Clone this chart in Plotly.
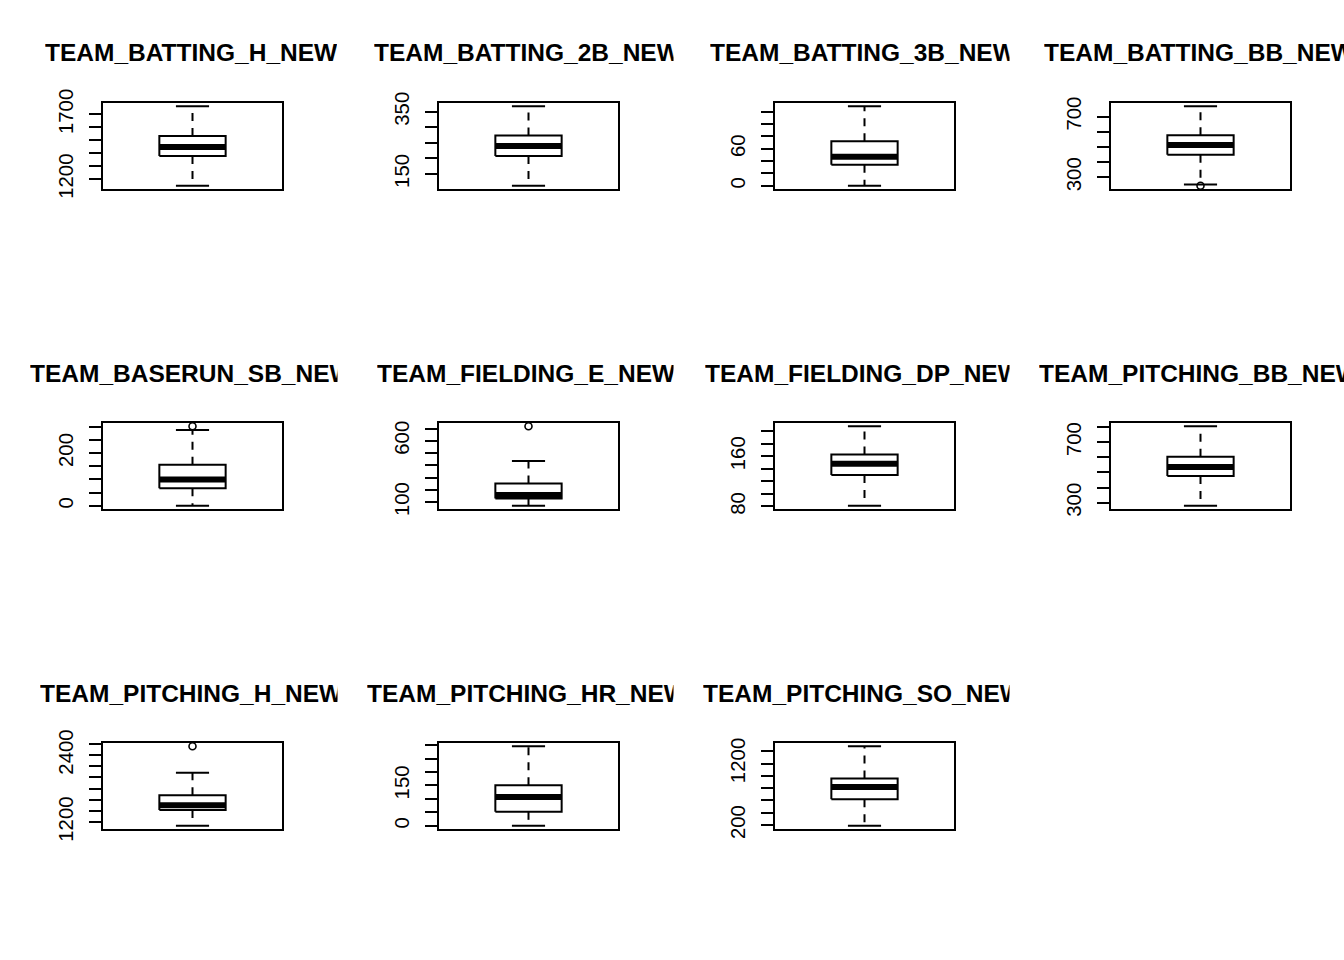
import plotly.graph_objects as go

# ---------------- data ----------------
titles = ["TEAM_BATTING_H_NEW", "TEAM_BATTING_2B_NEW", "TEAM_BATTING_3B_NEW", "TEAM_BATTING_BB_NEW",
          "TEAM_BASERUN_SB_NEW", "TEAM_FIELDING_E_NEW", "TEAM_FIELDING_DP_NEW", "TEAM_PITCHING_BB_NEW",
          "TEAM_PITCHING_H_NEW", "TEAM_PITCHING_HR_NEW", "TEAM_PITCHING_SO_NEW"]
lower_whisker = [1149, 112, 0, 252, 0, 70, 81, 280, 1134, 0, 189]
q1_values = [1379, 208, 34, 448, 67, 129, 130, 477, 1419, 52, 619]
median_values = [1449, 240, 47, 513, 100, 158, 148, 536, 1503, 107, 818]
q3_values = [1533, 274, 72, 578, 156, 252, 163, 604, 1681, 151, 958]
upper_whisker = [1764, 368, 129, 769, 288, 435, 208, 805, 2085, 296, 1481]
outlier_values = [[], [], [], [244], [302], [719], [], [], [2558], [], []]
tick_values = [
    [1200, 1300, 1400, 1500, 1600, 1700],
    [150, 200, 250, 300, 350],
    [0, 20, 40, 60, 80, 100, 120],
    [300, 400, 500, 600, 700],
    [0, 50, 100, 150, 200, 250, 300],
    [100, 200, 300, 400, 500, 600, 700],
    [80, 100, 120, 140, 160, 180, 200],
    [300, 400, 500, 600, 700, 800],
    [1200, 1400, 1600, 1800, 2000, 2200, 2400, 2600],
    [0, 50, 100, 150, 200, 250, 300],
    [200, 400, 600, 800, 1000, 1200, 1400],
]
labelled_ticks = [[1200, 1700], [150, 350], [0, 60], [300, 700], [0, 200], [100, 600],
                  [80, 160], [300, 700], [1200, 2400], [0, 150], [200, 1200]]

# ---------------- layout constants ----------------
W, H = 1344, 960
PANEL_W, PANEL_H = 179, 86
REGION_W, REGION_H = 336, 320
LEFT, TOP = 103, 103
title_left_px = [44, 372.5, 708.5, 1042.5, 28.5, 375.5, 703.5, 1037.5, 38.5, 365.5, 701.5]
FONT = "Liberation Sans, Arial, sans-serif"

fig = go.Figure()
layout = dict(width=W, height=H, margin=dict(l=0, r=0, t=0, b=0, pad=0, autoexpand=False),
              paper_bgcolor="white", plot_bgcolor="white", showlegend=False,
              annotations=[], template="none")

for i, name in enumerate(titles):
    r, c = divmod(i, 4)
    x0 = LEFT + REGION_W * c
    y0 = TOP + REGION_H * r
    sfx = "" if i == 0 else str(i + 1)
    xa, ya = "x" + sfx, "y" + sfx

    lo, q1, med, q3, hi = lower_whisker[i], q1_values[i], median_values[i], q3_values[i], upper_whisker[i]
    outs = outlier_values[i]
    allv = [lo, hi] + outs
    dmin, dmax = min(allv), max(allv)
    ext = 0.04 * (dmax - dmin)

    line = dict(color="black", width=2)
    dashed = dict(color="black", width=2, dash="8px,7px")
    # whiskers (dashed)
    fig.add_trace(go.Scatter(x=[1, 1], y=[q3, hi], mode="lines", xaxis=xa, yaxis=ya,
                             line=dashed, hoverinfo="skip"))
    fig.add_trace(go.Scatter(x=[1, 1], y=[q1, lo], mode="lines", xaxis=xa, yaxis=ya,
                             line=dashed, hoverinfo="skip"))
    # caps
    fig.add_trace(go.Scatter(x=[0.9, 1.1], y=[hi, hi], mode="lines", xaxis=xa, yaxis=ya, line=line, hoverinfo="skip"))
    fig.add_trace(go.Scatter(x=[0.9, 1.1], y=[lo, lo], mode="lines", xaxis=xa, yaxis=ya, line=line, hoverinfo="skip"))
    # box
    fig.add_trace(go.Scatter(x=[0.8, 1.2, 1.2, 0.8, 0.8], y=[q1, q1, q3, q3, q1], mode="lines",
                             xaxis=xa, yaxis=ya, line=line, fill="toself", fillcolor="white", hoverinfo="skip"))
    # median
    fig.add_trace(go.Scatter(x=[0.8, 1.2], y=[med, med], mode="lines", xaxis=xa, yaxis=ya,
                             line=dict(color="black", width=6), hoverinfo="skip"))
    # outliers
    if outs:
        fig.add_trace(go.Scatter(x=[1] * len(outs), y=outs, mode="markers", xaxis=xa, yaxis=ya,
                                 marker=dict(symbol="circle-open", size=7, color="black", line=dict(width=1.6)),
                                 hoverinfo="skip"))

    xdom = [x0 / W, (x0 + PANEL_W) / W]
    ydom = [1 - (y0 + PANEL_H) / H, 1 - y0 / H]
    layout["xaxis" + sfx] = dict(domain=xdom, range=[0.46, 1.54], anchor=ya, showticklabels=False,
                                 ticks="", showgrid=False, zeroline=False, showline=True, mirror=True,
                                 linecolor="black", linewidth=2, fixedrange=True, automargin=False)
    tv = tick_values[i]
    tt = [str(v) if v in labelled_ticks[i] else "" for v in tv]
    layout["yaxis" + sfx] = dict(domain=ydom, range=[dmin - ext, dmax + ext], anchor=xa,
                                 tickvals=tv, ticktext=tt, tickangle=-90, ticks="outside",
                                 ticklen=12, tickwidth=2, tickcolor="black", ticklabelstandoff=8,
                                 tickfont=dict(family=FONT, size=20.4, color="black"),
                                 showgrid=False, zeroline=False, showline=True, mirror=True,
                                 linecolor="black", linewidth=2, fixedrange=True, automargin=False)

    right_edge = REGION_W * (c + 1)
    tl = title_left_px[i]
    layout["annotations"].append(dict(
        text="<b>" + name + "</b>", xref="paper", yref="paper",
        x=tl / W, y=1 - (y0 - 50) / H, xanchor="left", yanchor="middle",
        align="left", width=right_edge - tl, borderpad=0, showarrow=False,
        font=dict(family=FONT, size=24.5, color="black")))

fig.update_layout(**layout)
fig.write_html("out.html")
